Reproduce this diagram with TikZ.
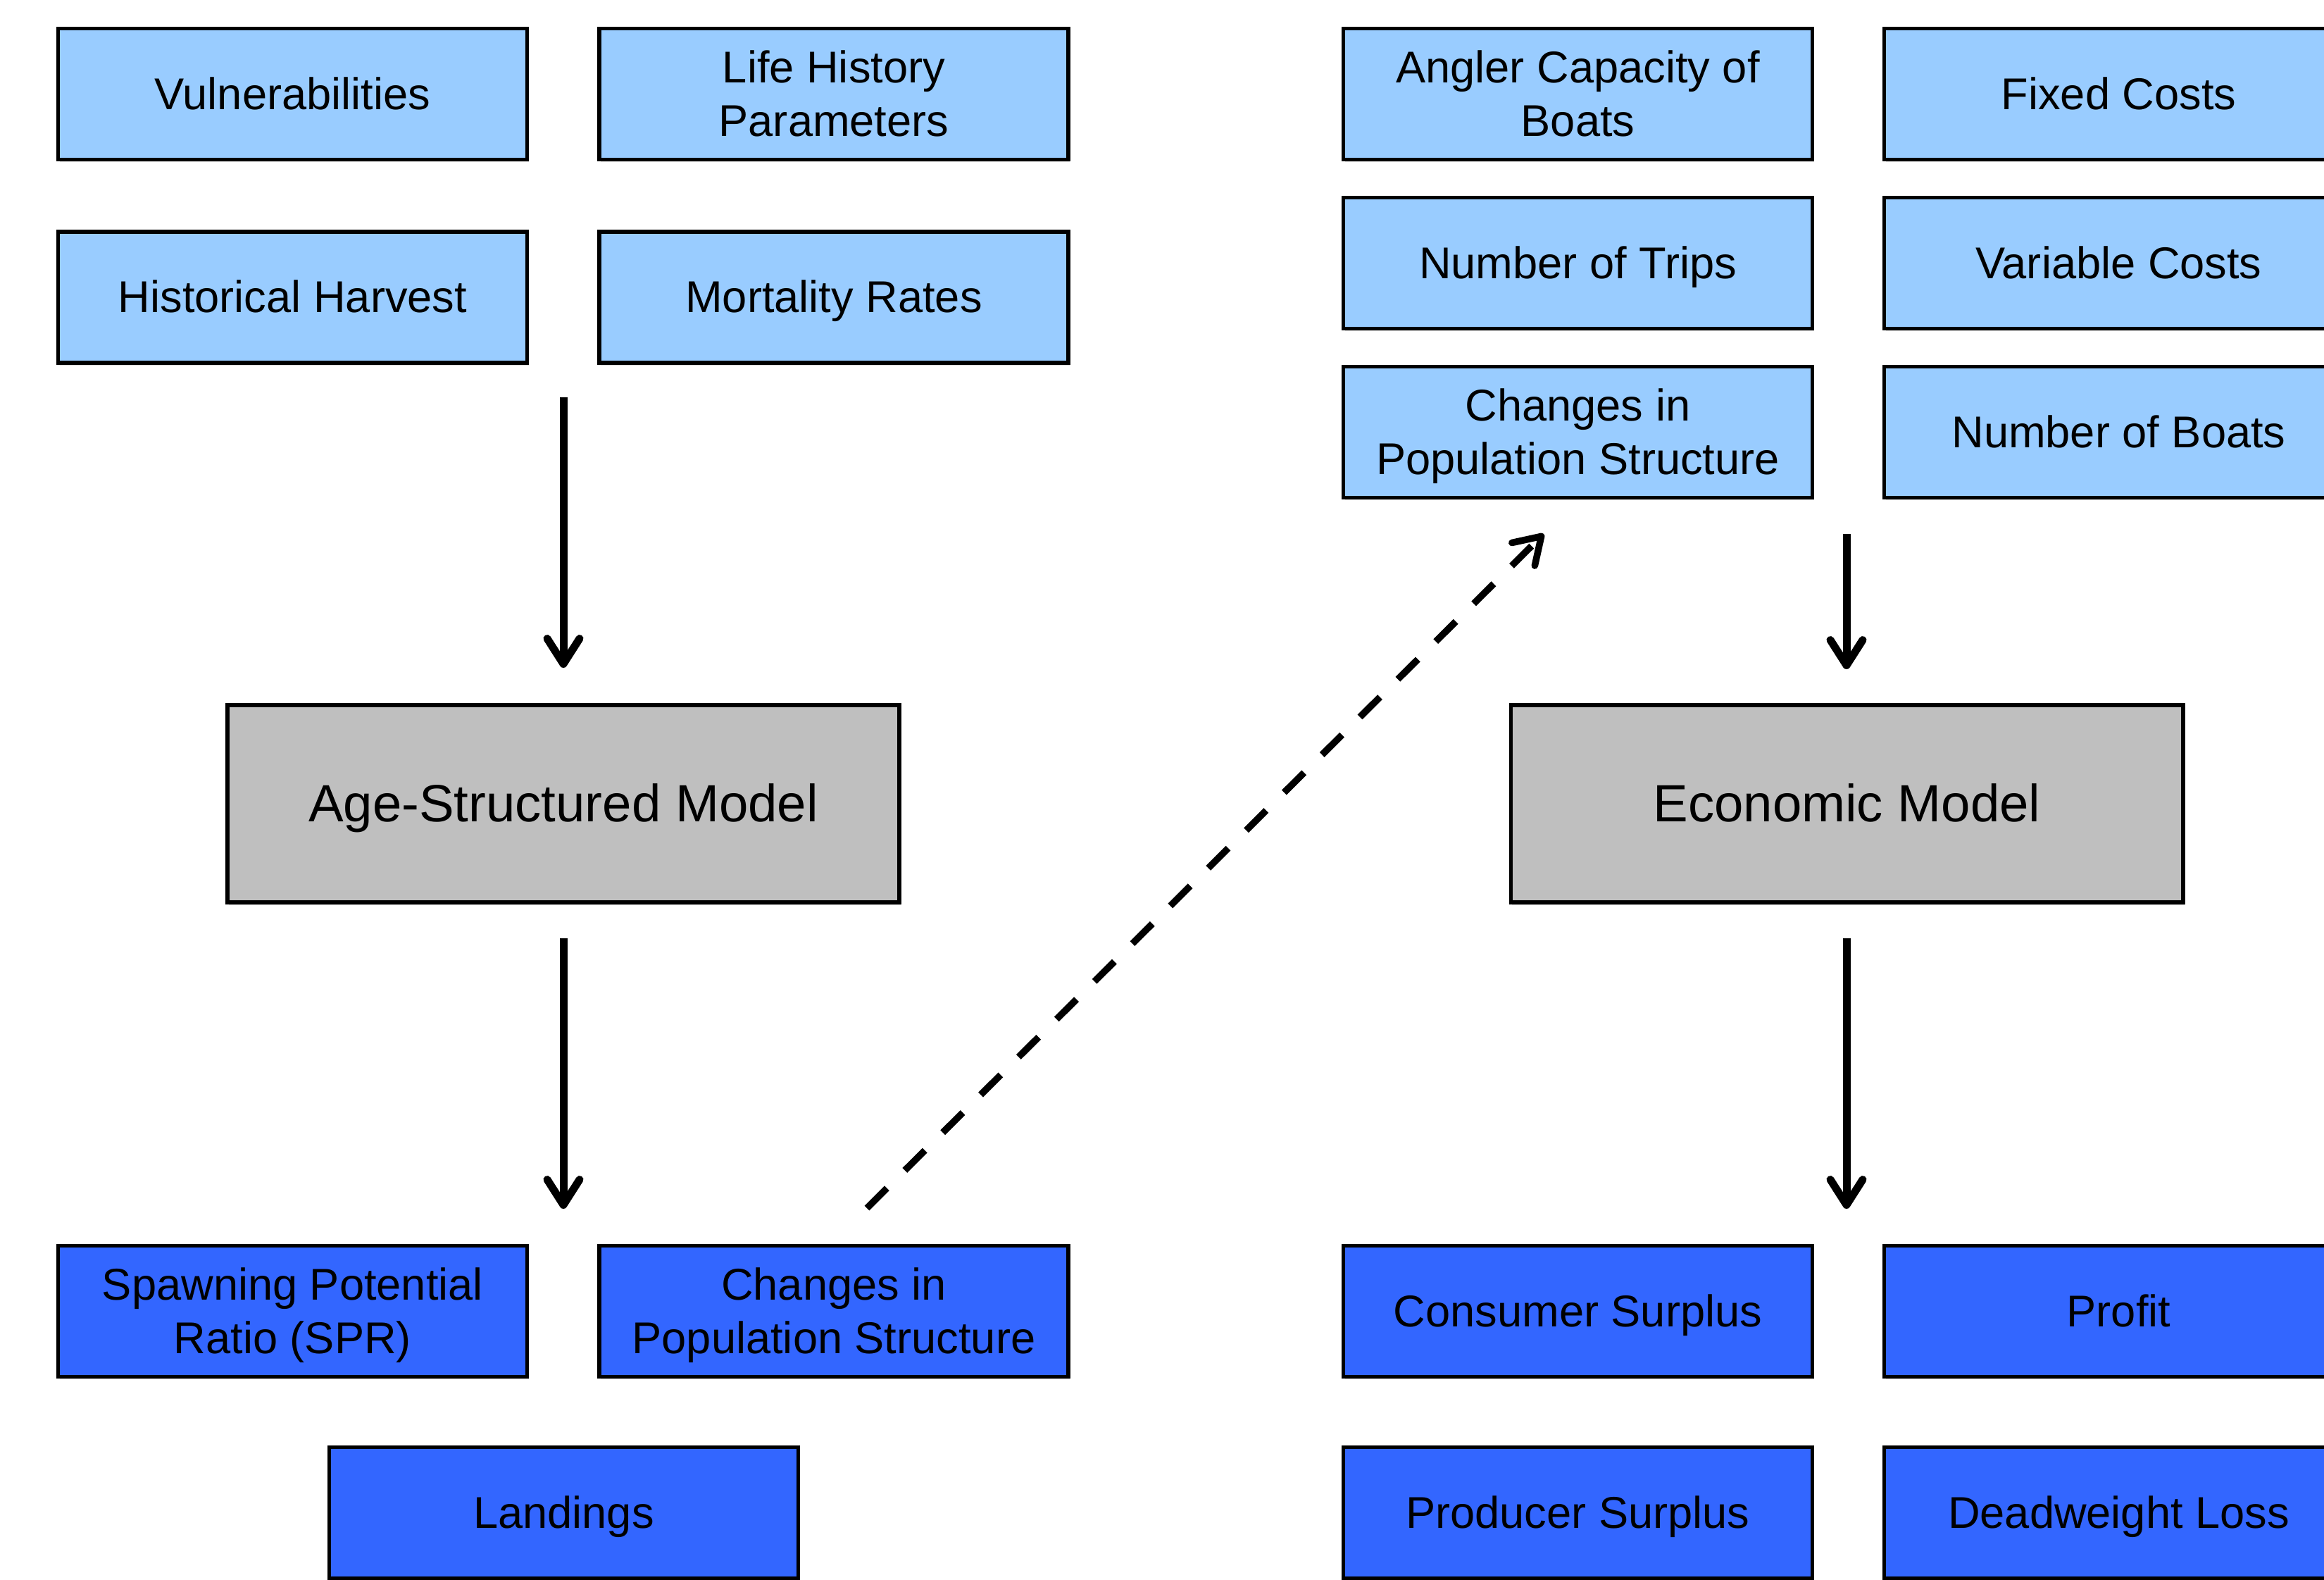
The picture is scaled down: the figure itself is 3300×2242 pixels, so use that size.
\documentclass[tikz,border=0pt]{standalone}
\usepackage{fontspec}
\setmainfont{Liberation Sans}
\usetikzlibrary{arrows.meta,shadows}
\definecolor{lightbox}{HTML}{99CCFF}
\definecolor{darkbox}{HTML}{3366FF}
\definecolor{modelgray}{HTML}{BFBFBF}
\newcommand{\lnstrut}{\rule[-0.212em]{0pt}{1.117em}}
\begin{document}
\begin{tikzpicture}[x=0.25pt,y=-0.25pt,
  box/.style={draw=black, line width=1.4pt, rectangle, minimum width=166.5pt, minimum height=46.5pt,
    inner sep=0pt, align=center, font=\fontsize{15.8}{19}\selectfont,
    drop shadow={shadow xshift=0.5pt, shadow yshift=-0.9pt, opacity=0.3}},
  inbox/.style={box, fill=lightbox},
  outbox/.style={box, fill=darkbox},
  model/.style={box, fill=modelgray, minimum width=238.6pt, minimum height=70pt,
    font=\fontsize{18.6}{22}\selectfont},
  flow/.style={line width=2.75pt, -{Straight Barb[length=9pt, width=11.5pt, round]}},
  dflow/.style={flow, line width=2.4pt, dash pattern=on 10pt off 9pt}
  ]
\useasboundingbox (0,0) rectangle (3300,2242);
% left inputs
\node[inbox] (vul) at (415.5,133.5) {\lnstrut Vulnerabilities};
\node[inbox] (life) at (1184,133.5) {\lnstrut Life History\\\lnstrut Parameters};
\node[inbox] (hist) at (415.5,422) {\lnstrut Historical Harvest};
\node[inbox] (mort) at (1184,422) {\lnstrut Mortality Rates};
% right inputs
\node[inbox] (angler) at (2240.5,133.5) {\lnstrut Angler Capacity of\\\lnstrut Boats};
\node[inbox] (fixed) at (3008.5,133.5) {\lnstrut Fixed Costs};
\node[inbox] (trips) at (2240.5,373.5) {\lnstrut Number of Trips};
\node[inbox] (var) at (3008.5,373.5) {\lnstrut Variable Costs};
\node[inbox] (chgin) at (2240.5,613.5) {\lnstrut Changes in\\\lnstrut Population Structure};
\node[inbox] (boats) at (3008.5,613.5) {\lnstrut Number of Boats};
% models
\node[model] (age) at (800,1141) {\lnstrut Age-Structured Model};
\node[model] (econ) at (2622.5,1141) {\lnstrut Economic Model};
% outputs
\node[outbox] (spr) at (415.5,1861.5) {\lnstrut Spawning Potential\\\lnstrut Ratio (SPR)};
\node[outbox] (chgout) at (1184,1861.5) {\lnstrut Changes in\\\lnstrut Population Structure};
\node[outbox] (land) at (800.5,2147.5) {\lnstrut Landings};
\node[outbox] (cons) at (2240.5,1861.5) {\lnstrut Consumer Surplus};
\node[outbox] (profit) at (3008.5,1861.5) {\lnstrut Profit};
\node[outbox] (prod) at (2240.5,2147.5) {\lnstrut Producer Surplus};
\node[outbox] (dwl) at (3008.5,2147.5) {\lnstrut Deadweight Loss};
% arrow end points
\coordinate (a1s) at (800,564);
\coordinate (a1e) at (800,948);
\coordinate (a2s) at (800,1332);
\coordinate (a2e) at (800,1716);
\coordinate (a3s) at (2622,758);
\coordinate (a3e) at (2622,950);
\coordinate (a4s) at (2622,1332);
\coordinate (a4e) at (2622,1716);
\coordinate (ds) at (1231,1715);
\coordinate (de) at (2192,758);
\draw[flow] (a1s) -- (a1e);
\draw[flow] (a2s) -- (a2e);
\draw[flow] (a3s) -- (a3e);
\draw[flow] (a4s) -- (a4e);
\draw[dflow] (ds) -- (de);
\end{tikzpicture}
\end{document}
